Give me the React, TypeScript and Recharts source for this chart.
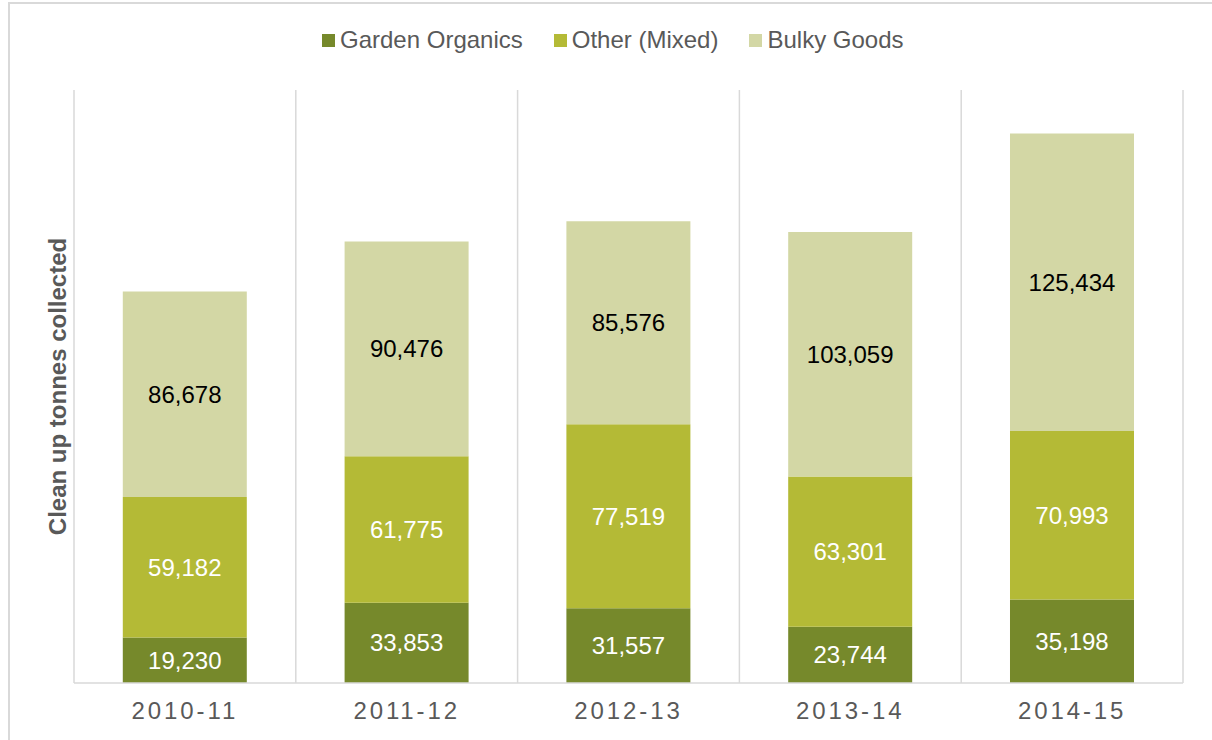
import { BarChart, Bar, XAxis, YAxis, CartesianGrid, LabelList } from "recharts";

const YEARS = ["2010-11", "2011-12", "2012-13", "2013-14", "2014-15"];
const GARDEN = [19230, 33853, 31557, 23744, 35198];
const OTHER = [59182, 61775, 77519, 63301, 70993];
const BULKY = [86678, 90476, 85576, 103059, 125434];

const SERIES = [
  { key: "garden", name: "Garden Organics", color: "#76892b", label: "#ffffff" },
  { key: "other", name: "Other (Mixed)", color: "#b4ba36", label: "#ffffff" },
  { key: "bulky", name: "Bulky Goods", color: "#d3d7a5", label: "#000000" },
];

const data = YEARS.map((y, i) => ({
  year: y,
  garden: GARDEN[i],
  other: OTHER[i],
  bulky: BULKY[i],
}));

const FONT = '"Liberation Sans", Arial, sans-serif';
const fmt = (v: any) => Number(v).toLocaleString("en-US");

// grid lines on category boundaries, not centres
const boundaryLines = ({ offset }: any) => {
  const n = YEARS.length;
  const out: number[] = [];
  for (let i = 0; i <= n; i++) out.push(offset.left + (i * offset.width) / n);
  return out;
};

export default function App() {
  return (
    <div
      style={{
        position: "absolute",
        left: 0,
        top: 0,
        width: 1212,
        height: 740,
        overflow: "hidden",
        background: "#fff",
        fontFamily: FONT,
      }}
    >
      <div
        style={{
          position: "absolute",
          left: 8,
          top: 2,
          width: 1300,
          height: 800,
          border: "2px solid #d9d9d9",
        }}
      />
      <div
        style={{
          position: "absolute",
          left: 322,
          top: 26,
          display: "flex",
          alignItems: "center",
          fontSize: 24,
          lineHeight: "28px",
          color: "#595959",
          whiteSpace: "nowrap",
        }}
      >
        {SERIES.map((s) => (
          <div key={s.key} style={{ display: "flex", alignItems: "center", marginRight: 31 }}>
            <span style={{ width: 13, height: 13, background: s.color, marginRight: 5 }} />
            <span>{s.name}</span>
          </div>
        ))}
      </div>
      <div style={{ position: "absolute", left: 0, top: 0 }}>
        <BarChart
          width={1212}
          height={740}
          data={data}
          margin={{ top: 90, right: 29, bottom: 0, left: 0 }}
          barCategoryGap="22%"
        >
          <CartesianGrid
            horizontal={false}
            stroke="#d9d9d9"
            strokeWidth={1.5}
            verticalCoordinatesGenerator={boundaryLines}
          />
          <XAxis
            dataKey="year"
            height={57}
            tickLine={false}
            tickMargin={13}
            axisLine={{ stroke: "#d9d9d9", strokeWidth: 1.5 }}
            tick={{ fontSize: 24, fill: "#595959", fontFamily: FONT, letterSpacing: 2.9 }}
          />
          <YAxis
            width={74}
            domain={[0, 250000]}
            tick={false}
            tickLine={false}
            axisLine={false}
            label={{
              value: "Clean up tonnes collected",
              angle: -90,
              position: "center",
              dx: 20,
              style: { fontSize: 24, fontWeight: "bold", fill: "#595959", fontFamily: FONT },
            }}
          />
          {SERIES.map((s) => (
            <Bar key={s.key} dataKey={s.key} name={s.name} stackId="a" fill={s.color} isAnimationActive={false}>
              <LabelList
                dataKey={s.key}
                position="center"
                formatter={fmt}
                style={{ fontSize: 24, fill: s.label, fontFamily: FONT }}
              />
            </Bar>
          ))}
        </BarChart>
      </div>
    </div>
  );
}
